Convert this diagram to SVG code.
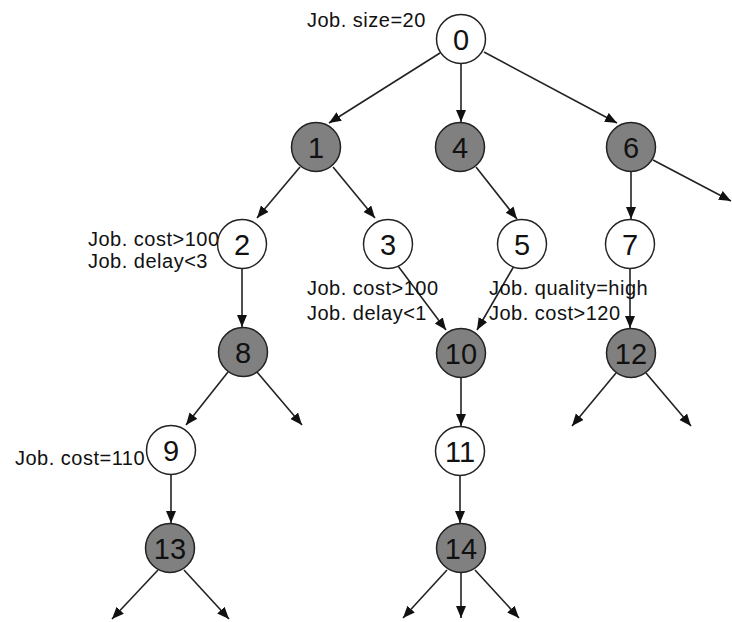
<svg xmlns="http://www.w3.org/2000/svg" width="732" height="622" viewBox="0 0 732 622">
<style>
.bg{fill:#fff}
.edge{stroke:#222;stroke-width:1.6;fill:none;marker-end:url(#ah)}
.w{fill:#fff;stroke:#222;stroke-width:1.5}
.g{fill:#808080;stroke:#222;stroke-width:1.5}
.num{font-family:"Liberation Sans",Arial,sans-serif;font-size:29px;fill:#111;text-anchor:middle}
.lbl{font-family:"Liberation Sans",Arial,sans-serif;font-size:20px;fill:#111;letter-spacing:0.5px}
</style>
<defs>
<marker id="ah" markerUnits="userSpaceOnUse" markerWidth="13" markerHeight="11" refX="12" refY="5" orient="auto">
<path d="M0,0 L12,5 L0,10 z" fill="#111"/>
</marker>
</defs>
<rect class="bg" x="0" y="0" width="732" height="622"/>
<g id="connectors">
<line class="edge" x1="440" y1="53" x2="329" y2="123"/>
<line class="edge" x1="461" y1="64" x2="461" y2="122"/>
<line class="edge" x1="484" y1="52" x2="617" y2="123"/>
<line class="edge" x1="300" y1="167" x2="257" y2="218"/>
<line class="edge" x1="333" y1="167" x2="375" y2="218"/>
<line class="edge" x1="476" y1="167" x2="517" y2="219"/>
<line class="edge" x1="631" y1="172" x2="631" y2="219"/>
<line class="edge" x1="653" y1="160" x2="731" y2="201"/>
<line class="edge" x1="242" y1="269" x2="242" y2="327"/>
<line class="edge" x1="398" y1="266" x2="446" y2="330"/>
<line class="edge" x1="514" y1="266" x2="477" y2="330"/>
<line class="edge" x1="630" y1="269" x2="630" y2="328"/>
<line class="edge" x1="228" y1="372" x2="186" y2="425"/>
<line class="edge" x1="257" y1="372" x2="302" y2="425"/>
<line class="edge" x1="461" y1="378" x2="461" y2="426"/>
<line class="edge" x1="616" y1="373" x2="572" y2="426"/>
<line class="edge" x1="646" y1="373" x2="691" y2="426"/>
<line class="edge" x1="171" y1="475" x2="171" y2="523"/>
<line class="edge" x1="460" y1="476" x2="460" y2="523"/>
<line class="edge" x1="158" y1="570" x2="112" y2="619"/>
<line class="edge" x1="184" y1="570" x2="229" y2="619"/>
<line class="edge" x1="447" y1="570" x2="403" y2="618"/>
<line class="edge" x1="461" y1="573" x2="461" y2="618"/>
<line class="edge" x1="475" y1="570" x2="519" y2="618"/>
</g>
<g id="labels">
<text class="lbl" x="307" y="27">Job. size=20</text>
<text class="lbl" x="88" y="246">Job. cost&gt;100</text>
<text class="lbl" x="88" y="268">Job. delay&lt;3</text>
<text class="lbl" x="307" y="295">Job. cost&gt;100</text>
<text class="lbl" x="307" y="320">Job. delay&lt;1</text>
<text class="lbl" x="489" y="295">Job. quality=high</text>
<text class="lbl" x="489" y="320">Job. cost&gt;120</text>
<text class="lbl" x="15" y="465">Job. cost=110</text>
</g>
<g id="n0"><circle class="w" cx="461" cy="39" r="24.5"/><text class="num" x="461" y="49.5">0</text></g>
<g id="n1"><circle class="g" cx="316" cy="147" r="24.5"/><text class="num" x="316" y="157.5">1</text></g>
<g id="n4"><circle class="g" cx="460" cy="147" r="24.5"/><text class="num" x="460" y="157.5">4</text></g>
<g id="n6"><circle class="g" cx="631" cy="147" r="24.5"/><text class="num" x="631" y="157.5">6</text></g>
<g id="n2"><circle class="w" cx="242" cy="244" r="24.5"/><text class="num" x="242" y="254.5">2</text></g>
<g id="n3"><circle class="w" cx="388" cy="244" r="24.5"/><text class="num" x="388" y="254.5">3</text></g>
<g id="n5"><circle class="w" cx="522" cy="244" r="24.5"/><text class="num" x="522" y="254.5">5</text></g>
<g id="n7"><circle class="w" cx="630" cy="244" r="24.5"/><text class="num" x="630" y="254.5">7</text></g>
<g id="n8"><circle class="g" cx="243" cy="352" r="24.5"/><text class="num" x="243" y="362.5">8</text></g>
<g id="n10"><circle class="g" cx="461" cy="353" r="24.5"/><text class="num" x="461" y="363.5">10</text></g>
<g id="n12"><circle class="g" cx="631" cy="353" r="24.5"/><text class="num" x="631" y="363.5">12</text></g>
<g id="n9"><circle class="w" cx="171" cy="450" r="24.5"/><text class="num" x="171" y="460.5">9</text></g>
<g id="n11"><circle class="w" cx="460" cy="451" r="24.5"/><text class="num" x="460" y="461.5">11</text></g>
<g id="n13"><circle class="g" cx="170" cy="548" r="24.5"/><text class="num" x="170" y="558.5">13</text></g>
<g id="n14"><circle class="g" cx="461" cy="548" r="24.5"/><text class="num" x="461" y="558.5">14</text></g>
</svg>
